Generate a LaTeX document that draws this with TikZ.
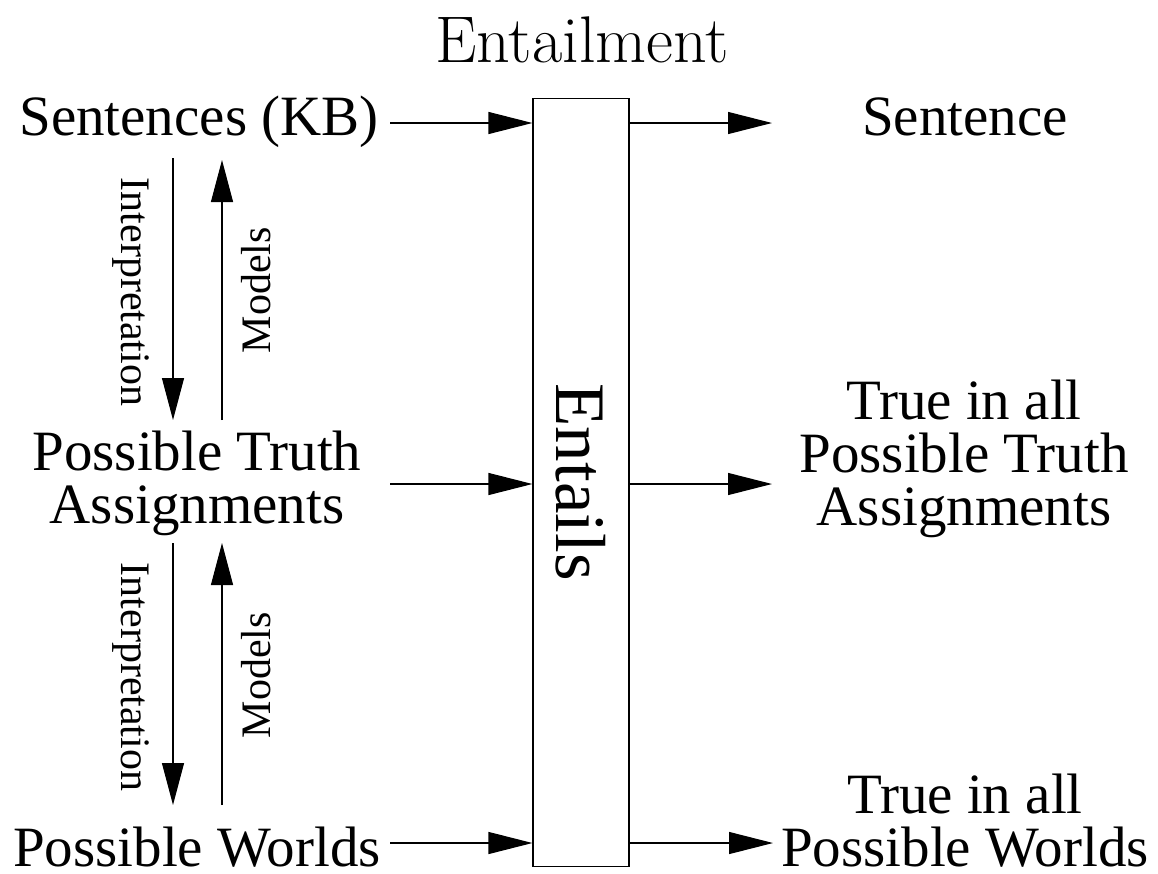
\documentclass[tikz,border=0pt]{standalone}
\usepackage{fontspec}
\setmainfont{Liberation Serif}
\newfontfamily\lmfont{Latin Modern Roman}
\usetikzlibrary{arrows.meta}
\tikzset{
  lbl/.style={inner sep=0pt, outer sep=0pt, align=center, text depth=0pt, font=\fontsize{57}{53}\selectfont},
  side/.style={inner sep=0pt, outer sep=0pt, font=\fontsize{42}{46}\selectfont},
  arr/.style={line width=1.2pt, -{Triangle[length=44pt,width=22pt]}},
  varr/.style={line width=1.2pt, -{Triangle[length=42pt,width=22pt]}},
}
\begin{document}
\begin{tikzpicture}[x=1pt,y=-1pt]
\useasboundingbox (0,0) rectangle (1158,873);
% title
\node[inner sep=0pt, anchor=base, font=\lmfont\fontsize{66}{66}\selectfont] (title) at (582,62) {Entailment};
% box
\node[draw, line width=1.2pt, minimum width=96pt, minimum height=768pt, inner sep=0pt] (box) at (581,482.5) {};
\node[inner sep=0pt, rotate=-90, font=\fontsize{71}{72}\selectfont] (entails) at (581,482) {Entails};
% left texts
\node[lbl, anchor=base] (kb) at (199,135) {Sentences (KB)};
\node[lbl, anchor=base] (pta) at (197,523) {Possible Truth\\Assignments};
\node[lbl, anchor=base] (pw) at (197,866) {Possible Worlds};
% right texts
\node[lbl, anchor=base] (s) at (965,135) {Sentence};
\node[lbl, anchor=base] (tpta) at (964,525) {True in all\\Possible Truth\\Assignments};
\node[lbl, anchor=base] (tpw) at (965,866) {True in all\\Possible Worlds};
% arrow ends
\coordinate (l1) at (390,123);
\coordinate (l2) at (390,484);
\coordinate (l3) at (390,843);
\coordinate (r1) at (772,123);
\coordinate (r2) at (772,484);
\coordinate (r3) at (773,843);
\draw[arr] (l1) -- (box.west |- l1);
\draw[arr] (l2) -- (box.west |- l2);
\draw[arr] (l3) -- (box.west |- l3);
\draw[arr] (box.east |- r1) -- (r1);
\draw[arr] (box.east |- r2) -- (r2);
\draw[arr] (box.east |- r3) -- (r3);
% vertical arrows
\coordinate (d1a) at (173,158);
\coordinate (d1b) at (173,420);
\coordinate (u1a) at (222,420);
\coordinate (u1b) at (222,160);
\coordinate (d2a) at (173,543);
\coordinate (d2b) at (173,805);
\coordinate (u2a) at (222,805);
\coordinate (u2b) at (222,543);
\draw[varr] (d1a) -- (d1b);
\draw[varr] (u1a) -- (u1b);
\draw[varr] (d2a) -- (d2b);
\draw[varr] (u2a) -- (u2b);
\node[side, rotate=-90] (int1) at (131,292) {Interpretation};
\node[side, rotate=90] (mod1) at (256,290) {Models};
\node[side, rotate=-90] (int2) at (131,677) {Interpretation};
\node[side, rotate=90] (mod2) at (256,675) {Models};
\end{tikzpicture}
\end{document}
